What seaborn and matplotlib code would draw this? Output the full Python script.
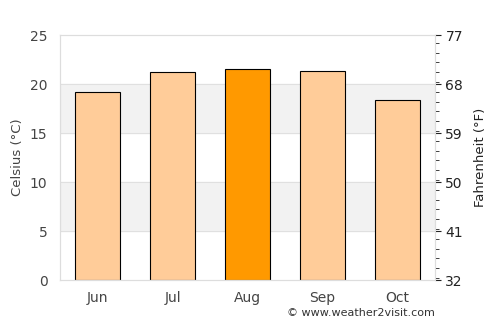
import matplotlib
matplotlib.use("Agg")
import matplotlib.pyplot as plt
import seaborn as sns
import pandas as pd
from matplotlib.ticker import MultipleLocator

months = ["Jun", "Jul", "Aug", "Sep", "Oct"]
celsius = [19.2, 21.2, 21.5, 21.3, 18.4]
colors = ["#ffcc99", "#ffcc99", "#ff9900", "#ffcc99", "#ffcc99"]
f_ticks = [32, 41, 50, 59, 68, 77]

df = pd.DataFrame({"Month": months, "Celsius": celsius})

sns.set_style("white")
plt.rcParams["font.family"] = ["DejaVu Sans"]

fig = plt.figure(figsize=(5, 3.25), dpi=100)
ax = fig.add_axes([0.12, 0.138, 0.75, 0.754])

# shaded bands
for lo, hi in [(5, 10), (15, 20)]:
    ax.axhspan(lo, hi, color="#f2f2f2", zorder=0)
for y in [5, 10, 15, 20]:
    ax.axhline(y, color="#e0e0e0", lw=0.8, zorder=0.5)

sns.barplot(data=df, x="Month", y="Celsius", hue="Month", palette=colors,
            saturation=1, width=0.6, edgecolor="black", linewidth=0.8,
            legend=False, ax=ax, zorder=2)

ax.set_ylim(0, 25)
ax.set_xlim(-0.5, 4.5)
ax.set_yticks([0, 5, 10, 15, 20, 25])
ax.set_xlabel("")
ax.set_ylabel("Celsius (°C)", color="#444444", fontsize=9.5)
ax.tick_params(axis="both", colors="#444444", labelsize=10, length=0)
ax.tick_params(axis="y", pad=9)
ax.tick_params(axis="x", pad=8)
for s in ax.spines.values():
    s.set_color("#dddddd")

ax2 = ax.twinx()
ax2.set_ylim(32, 77)
ax2.set_yticks(f_ticks)
ax2.yaxis.set_minor_locator(MultipleLocator(1.8))
ax2.tick_params(axis="y", which="major", length=4, colors="#222222", labelsize=10)
ax2.tick_params(axis="y", which="minor", length=3, color="#222222")
ax2.set_ylabel("Fahrenheit (°F)", color="#222222", fontsize=9.5, labelpad=8)
for s in ax2.spines.values():
    s.set_color("#dddddd")

fig.text(0.87, 0.02, "© www.weather2visit.com", ha="right", va="bottom",
         fontsize=8, color="#333333")

fig.savefig("out.png", dpi=100)
